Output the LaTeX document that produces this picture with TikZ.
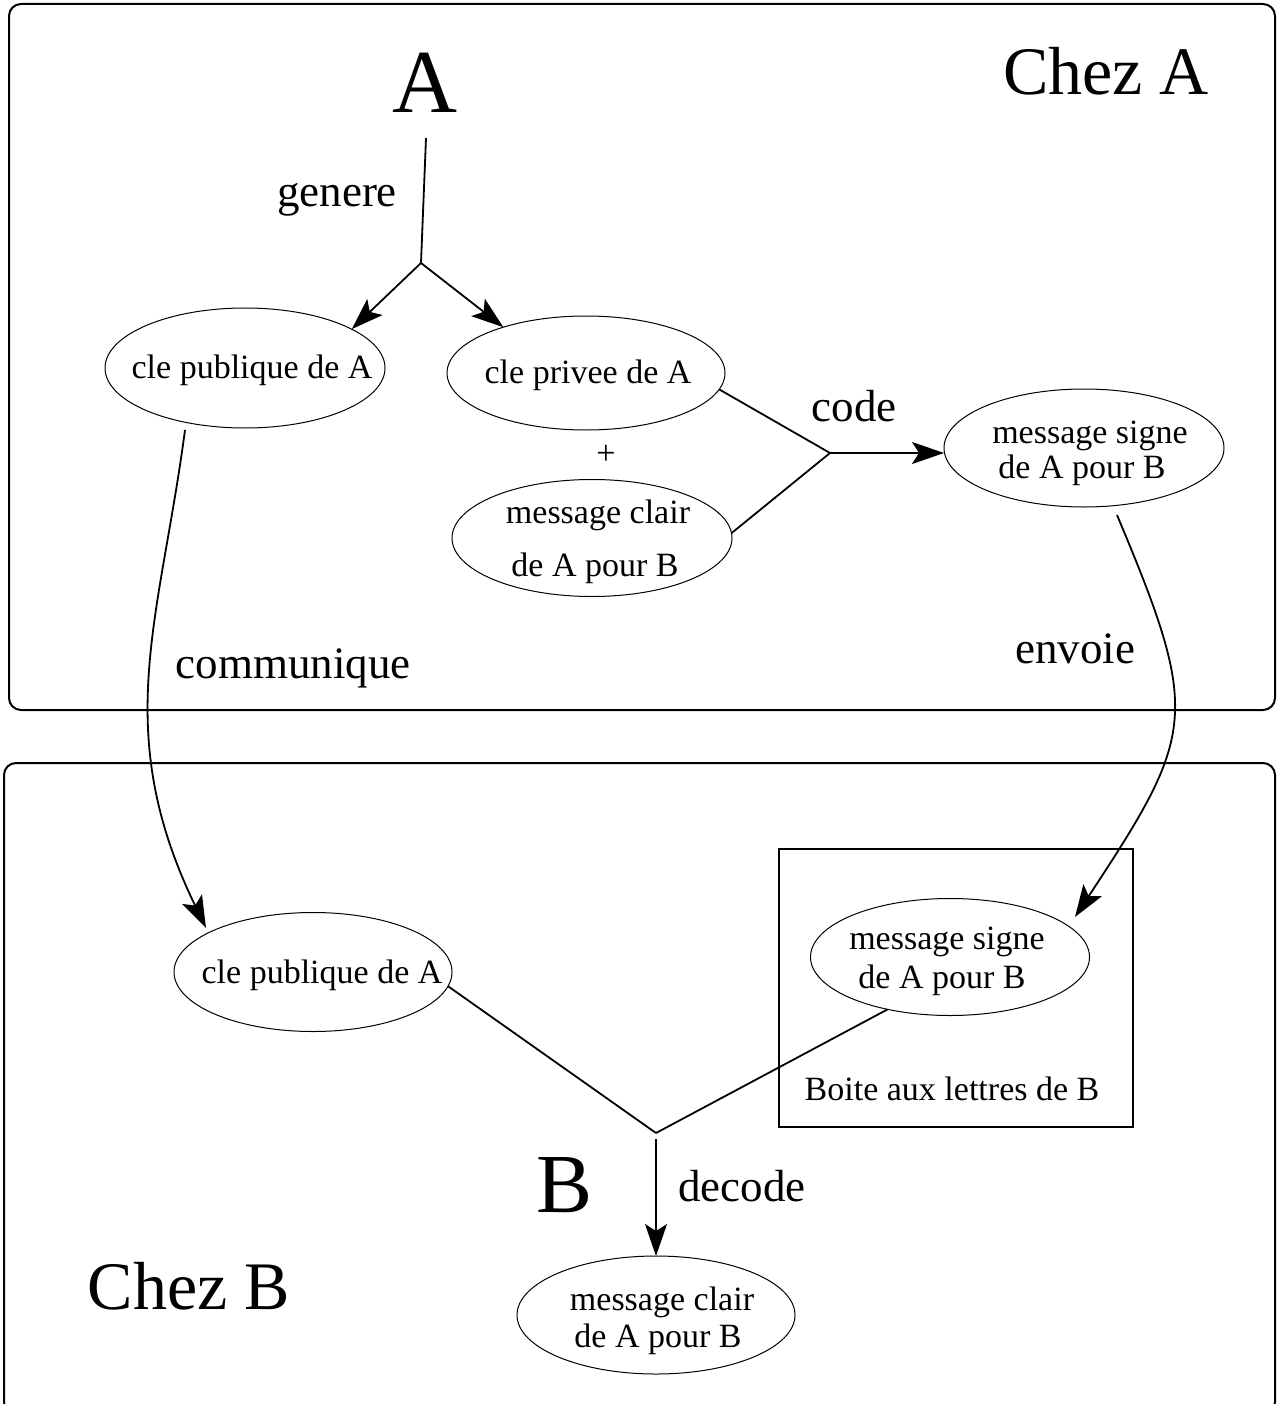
\documentclass[tikz,border=0pt]{standalone}
\usepackage{fontspec}
\setmainfont{Liberation Serif}
\usetikzlibrary{shapes.geometric,arrows.meta}

\tikzset{
  zone/.style={draw, line width=2pt, rounded corners=12pt},
  oval/.style={draw, ellipse, line width=1pt, inner sep=0pt, outer sep=0pt},
  ovaltext/.style={anchor=base, inner sep=0pt, font=\fontsize{34}{37}\selectfont},
  lbl/.style={anchor=base, inner sep=0pt, font=\fontsize{45}{50}\selectfont},
  title/.style={anchor=base, inner sep=0pt, font=\fontsize{68}{72}\selectfont},
  link/.style={line width=1.8pt},
  flow/.style={line width=1.8pt, -{Stealth[length=32pt, width=22pt, inset=7pt]}},
  mailbox/.style={draw, line width=1.3pt}
}

\begin{document}
\begin{tikzpicture}[x=1pt, y=-1pt]
  \useasboundingbox (0,0) rectangle (1276,1404);
  \clip (0,0) rectangle (1276,1404);

  % the two premises
  \draw[zone] (9,4) rectangle (1275,710);
  \draw[zone] (4,763) rectangle (1275,1414);
  \node[title] (chezA) at (1106,95) {Chez A};
  \node[title] (chezB) at (189,1309) {Chez B};

  % actors
  \node[anchor=base, inner sep=0pt, font=\fontsize{90}{94}\selectfont] (actA) at (425,113) {A};
  \node[anchor=base, inner sep=0pt, font=\fontsize{84}{88}\selectfont] (actB) at (565,1212) {B};

  % ellipses on A's side
  \node[oval, minimum width=280pt, minimum height=120pt] (pubA) at (245,368) {};
  \node[ovaltext] (pubAt) at (252,378) {cle publique de A};
  \node[oval, minimum width=278pt, minimum height=114pt] (privA) at (586,373) {};
  \node[ovaltext] (privAt) at (588,383) {cle privee de A};
  \node[inner sep=0pt, font=\fontsize{34}{37}\selectfont] (plus) at (606,455) {+};
  \node[oval, minimum width=280pt, minimum height=117pt] (clairA) at (592,538) {};
  \node[ovaltext] (clairAt1) at (598,523) {message clair};
  \node[ovaltext] (clairAt2) at (595,576) {de A pour B};
  \node[oval, minimum width=280pt, minimum height=118pt] (signeA) at (1084,448) {};
  \node[ovaltext] (signeAt1) at (1090,443) {message signe};
  \node[ovaltext] (signeAt2) at (1082,478) {de A pour B};

  % ellipses on B's side
  \node[oval, minimum width=278pt, minimum height=119pt] (pubB) at (313,972) {};
  \node[ovaltext] (pubBt) at (322,983) {cle publique de A};
  \draw[mailbox] (779,849) rectangle (1133,1127);
  \node[oval, minimum width=279pt, minimum height=117pt] (signeB) at (950,957) {};
  \node[ovaltext] (signeBt1) at (947,949) {message signe};
  \node[ovaltext] (signeBt2) at (942,988) {de A pour B};
  \node[ovaltext] (boite) at (952,1100) {Boite aux lettres de B};
  \node[oval, minimum width=278pt, minimum height=118pt] (clairB) at (656,1315) {};
  \node[ovaltext] (clairBt1) at (662,1310) {message clair};
  \node[ovaltext] (clairBt2) at (658,1347) {de A pour B};

  % labels
  \node[lbl] (genere) at (337,207) {genere};
  \node[lbl] (code) at (854,421) {code};
  \node[lbl] (communique) at (293,678) {communique};
  \node[lbl] (envoie) at (1075,663) {envoie};
  \node[lbl] (decode) at (742,1201) {decode};

  % junction points and free ends
  \coordinate (stemA) at (426,138);
  \coordinate (jA) at (421,263);
  \coordinate (jcode) at (830,453);
  \coordinate (comStart) at (185,430);
  \coordinate (comEnd) at (206,928);
  \coordinate (envStart) at (1117,515);
  \coordinate (envEnd) at (1075,917);
  \coordinate (jdec) at (656,1133);
  \coordinate (decStart) at (656,1139);

  % A generates its key pair
  \draw[link] (stemA) -- (jA);
  \draw[flow] (jA) -- (pubA.20);
  \draw[flow] (jA) -- (privA.151);

  % signing
  \draw[link] (privA.-7) -- (jcode);
  \draw[link] (clairA.2) -- (jcode);
  \draw[flow] (jcode) -- (jcode -| signeA.west);

  % transfers between the premises
  \draw[flow] (comStart) .. controls (160,620) and (110,730) .. (comEnd);
  \draw[flow] (envStart) .. controls (1201,715) and (1196,733) .. (envEnd);

  % decoding at B
  \draw[link] (pubB.-6.5) -- (jdec);
  \draw[link] (signeB.220) -- (jdec);
  \draw[flow] (decStart) -- (clairB.north);
\end{tikzpicture}
\end{document}
